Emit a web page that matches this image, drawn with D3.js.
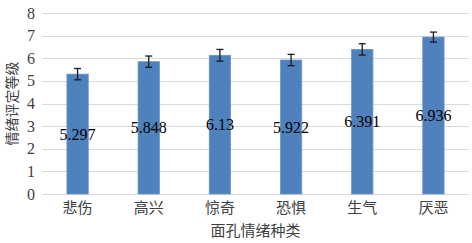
<!DOCTYPE html>
<html>
<head>
<meta charset="utf-8">
<script src="https://cdn.jsdelivr.net/npm/d3@7"></script>
<style>
  body { margin: 0; background: #fff; }
  svg { display: block; }
</style>
</head>
<body>
<div id="chart"></div>
<script>
// chart data
var categories = ["悲伤", "高兴", "惊奇", "恐惧", "生气", "厌恶"];
var values = [5.297, 5.848, 6.13, 5.922, 6.391, 6.936];
var errors = [0.25, 0.25, 0.26, 0.25, 0.25, 0.22];
var yTicks = [0, 1, 2, 3, 4, 5, 6, 7, 8];

var width = 472,
    height = 243,
    xlabel = "面孔情绪种类",
    ylabel = "情绪评定等级";

var margin = {top: 13, right: 3, bottom: 49, left: 42};

var svg = d3.select("#chart")
  .append("svg")
    .attr("width", width)
    .attr("height", height);

var x = d3.scaleBand()
    .domain(categories)
    .range([margin.left, width - margin.right])
    .paddingInner(0.7)
    .paddingOuter(0.35);

var y = d3.scaleLinear()
    .domain([0, 8])
    .range([height - margin.bottom, margin.top]);

// gridlines
svg.append("g")
  .selectAll("line")
  .data(yTicks)
  .enter()
  .append("line")
    .attr("x1", margin.left)
    .attr("x2", width - margin.right)
    .attr("y1", function(d) { return Math.round(y(d)) + 0.5; })
    .attr("y2", function(d) { return Math.round(y(d)) + 0.5; })
    .attr("stroke", "#d9d9d9")
    .attr("stroke-width", 1.2);

// y tick labels
svg.append("g")
  .selectAll("text")
  .data(yTicks)
  .enter()
  .append("text")
    .attr("x", 35)
    .attr("y", function(d) { return y(d); })
    .attr("dy", "0.35em")
    .attr("text-anchor", "end")
    .attr("font-family", "'Liberation Serif', 'Times New Roman', serif")
    .attr("font-size", 16)
    .attr("fill", "#404040")
    .text(function(d) { return d; });

// bars
svg.append("g")
  .selectAll("rect")
  .data(values)
  .enter()
  .append("rect")
    .attr("x", function(d, i) { return x(categories[i]); })
    .attr("width", x.bandwidth())
    .attr("y", function(d) { return y(d); })
    .attr("height", function(d) { return y(0) - y(d); })
    .attr("fill", "#4f81bd")
    .attr("stroke", "#6e96c9")
    .attr("stroke-width", 0.8);

// error bars
var eb = svg.append("g")
  .selectAll("g")
  .data(values)
  .enter()
  .append("g")
    .attr("stroke", "#1a1a1a")
    .attr("stroke-width", 1.3);

eb.append("line")
    .attr("x1", function(d, i) { return x(categories[i]) + x.bandwidth() / 2; })
    .attr("x2", function(d, i) { return x(categories[i]) + x.bandwidth() / 2; })
    .attr("y1", function(d, i) { return y(d + errors[i]); })
    .attr("y2", function(d, i) { return y(d - errors[i]); });

[1, -1].forEach(function(sign) {
  eb.append("line")
    .attr("x1", function(d, i) { return x(categories[i]) + x.bandwidth() / 2 - 3.5; })
    .attr("x2", function(d, i) { return x(categories[i]) + x.bandwidth() / 2 + 3.5; })
    .attr("y1", function(d, i) { return y(d + sign * errors[i]); })
    .attr("y2", function(d, i) { return y(d + sign * errors[i]); });
});

// value labels at the middle of each bar
svg.append("g")
  .selectAll("text")
  .data(values)
  .enter()
  .append("text")
    .attr("x", function(d, i) { return x(categories[i]) + x.bandwidth() / 2; })
    .attr("y", function(d) { return y(d / 2); })
    .attr("dy", "0.35em")
    .attr("text-anchor", "middle")
    .attr("font-family", "'Liberation Serif', 'Times New Roman', serif")
    .attr("font-size", 16)
    .attr("fill", "#000")
    .text(function(d) { return d; });

// category labels
svg.append("g")
  .selectAll("text")
  .data(categories)
  .enter()
  .append("text")
    .attr("x", function(d) { return x(d) + x.bandwidth() / 2; })
    .attr("y", y(0) + 19)
    .attr("text-anchor", "middle")
    .attr("font-family", "'Noto Sans CJK SC', sans-serif")
    .attr("font-size", 15)
    .attr("fill", "#404040")
    .text(function(d) { return d; });

// axis titles
svg.append("text")
    .attr("x", (margin.left + width - margin.right) / 2)
    .attr("y", 236)
    .attr("text-anchor", "middle")
    .attr("font-family", "'Noto Sans CJK SC', sans-serif")
    .attr("font-size", 15)
    .attr("fill", "#404040")
    .text(xlabel);

svg.append("text")
    .attr("transform", "translate(17," + y(4) + ") rotate(-90)")
    .attr("text-anchor", "middle")
    .attr("font-family", "'Noto Sans CJK SC', sans-serif")
    .attr("font-size", 14)
    .attr("fill", "#404040")
    .text(ylabel);
</script>
</body>
</html>
